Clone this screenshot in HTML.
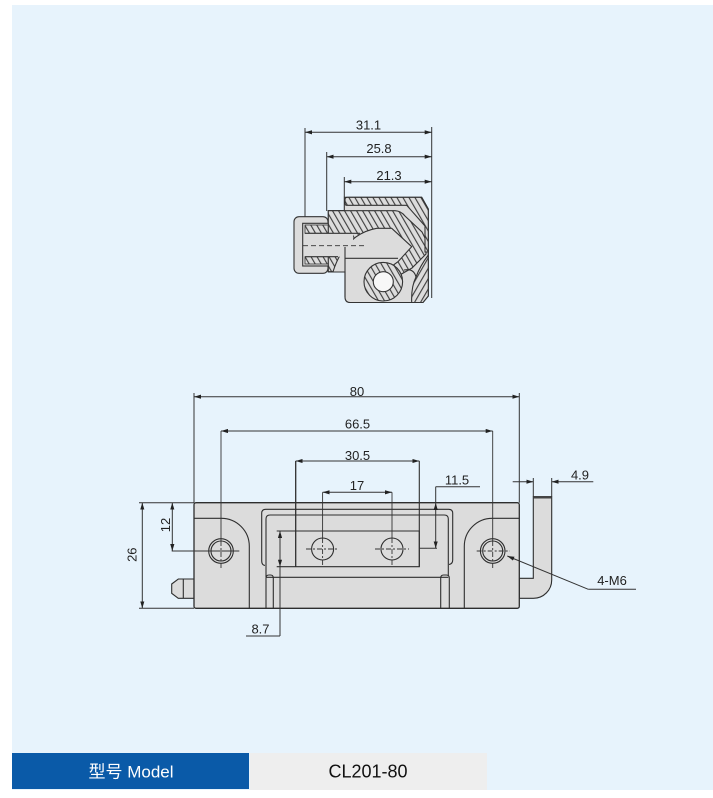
<!DOCTYPE html>
<html><head><meta charset="utf-8"><style>
html,body{margin:0;padding:0;background:#fff;}
svg{display:block;}
text{font-family:"Liberation Sans","Noto Sans CJK SC",sans-serif;}
</style></head><body>
<svg width="713" height="798" viewBox="0 0 713 798" xmlns="http://www.w3.org/2000/svg">
<defs>
<marker id="ar" viewBox="0 0 10 6" refX="10" refY="3" markerWidth="7" markerHeight="4.2" orient="auto-start-reverse" markerUnits="userSpaceOnUse"><path d="M0,0 L10,3 L0,6 z" fill="#222"/></marker>
<pattern id="h1" patternUnits="userSpaceOnUse" width="5.2" height="10" patternTransform="rotate(-30)"><rect width="5.2" height="10" fill="#dcdcdc"/><line x1="0.6" y1="-1" x2="0.6" y2="11" stroke="#333" stroke-width="1.05"/></pattern>
<pattern id="h2" patternUnits="userSpaceOnUse" width="5.2" height="10" patternTransform="rotate(30)"><rect width="5.2" height="10" fill="#dcdcdc"/><line x1="0.6" y1="-1" x2="0.6" y2="11" stroke="#333" stroke-width="1.05"/></pattern>
</defs>
<rect x="12" y="5" width="701" height="785" fill="#e7f3fc"/>

<!-- ===== TOP SECTION VIEW ===== -->
<g stroke="#333" stroke-width="1.1" fill="none">
<!-- backdrop grey -->
<path d="M344.3,197.3 L421.7,197.3 L428.3,209 L428.3,296 L423,302.5 L350,302.5 Q345,302.5 345,297 L345,272 L328.3,272 L328.3,210.7 L344.3,210.7 Z" fill="#dcdcdc"/>
<!-- left cap -->
<rect x="294" y="216.7" width="34" height="56.6" rx="5" fill="#dcdcdc"/>
<rect x="302.7" y="223.3" width="26" height="42.7" fill="#dcdcdc"/>
<rect x="305" y="225" width="23.3" height="8.3" fill="url(#h1)" stroke-width="0.8"/>
<rect x="305" y="256.7" width="23.3" height="7.3" fill="url(#h1)" stroke-width="0.8"/>
<!-- main hatched body -->
<path d="M328.3,210.7 L395,210.7 Q401,211 405,216 L422,232 L426,240 L426,254 L412,268 L398,276 L392,266 L398,261.7 L411.7,246.7 L391.7,228.3 L376.7,228.3 Q345,234 333,271.7 L328.3,271.7 Z" fill="url(#h1)"/>
<!-- pin bore grey -->
<rect x="305" y="233.3" width="48" height="23.4" fill="#dcdcdc" stroke="none"/>
<line x1="305" y1="233.3" x2="360" y2="233.3"/>
<line x1="305" y1="256.7" x2="338" y2="256.7"/>
<line x1="345" y1="258.3" x2="398" y2="258.3"/>
<line x1="345" y1="247" x2="345" y2="297"/>
<line x1="303" y1="245.7" x2="364" y2="245.7" stroke-dasharray="5,3" stroke-width="0.9"/>
<!-- ring -->
<circle cx="383.3" cy="281.7" r="19.3" fill="url(#h1)"/>
<circle cx="383.3" cy="281.7" r="10" fill="#f7f7f7"/>
<!-- upper leaf plate -->
<path d="M345,199.5 Q345,197.3 347.5,197.3 L421.7,197.3 L428.3,209 L428.3,252 L425,252 L425,226 L406.7,205.3 L347,205.3 Q345,205.3 345,203.5 Z" fill="url(#h1)"/>
<!-- lower right piece -->
<path d="M428.3,250 L428.3,296 L423,302.5 L411.7,302.5 Q411,287 416,277 Q420,266 428.3,255 Z" fill="url(#h2)"/>
<path d="M404,270 Q414,268 416,277" />
</g>
<!-- top dims -->
<g stroke="#333" stroke-width="1" fill="none">
<line x1="305" y1="128" x2="305" y2="217"/>
<line x1="326.7" y1="152" x2="326.7" y2="211"/>
<line x1="344.3" y1="177" x2="344.3" y2="197"/>
<line x1="431.7" y1="127" x2="431.7" y2="298"/>
<line x1="305" y1="132.3" x2="431.7" y2="132.3" marker-start="url(#ar)" marker-end="url(#ar)"/>
<line x1="326.7" y1="156.7" x2="431.7" y2="156.7" marker-start="url(#ar)" marker-end="url(#ar)"/>
<line x1="344.3" y1="181.7" x2="431.7" y2="181.7" marker-start="url(#ar)" marker-end="url(#ar)"/>
</g>
<g font-size="13" fill="#222" text-anchor="middle">
<text x="368.5" y="129.3">31.1</text>
<text x="379" y="153">25.8</text>
<text x="389" y="180">21.3</text>
</g>

<!-- ===== BOTTOM FRONT VIEW ===== -->
<g stroke="#2e2e2e" stroke-width="1.1" fill="none">
<!-- left stub pin -->
<path d="M171.7,584 L178.3,579 L194,579 L194,598.3 L178.3,598.3 L171.7,593.3 Z" fill="#dcdcdc"/>
<line x1="183.3" y1="579" x2="183.3" y2="598.3"/>
<!-- right L pin -->
<path d="M519.3,578.3 L533.3,578.3 L533.3,497 L551.7,497 L551.7,580 A18.3,18.3 0 0 1 533.4,598.3 L519.3,598.3 Z" fill="#dcdcdc"/>
<rect x="533.3" y="496" width="18.4" height="2.5" fill="#444" stroke="none"/>
<!-- body -->
<rect x="194" y="502.7" width="325.3" height="105.6" rx="2" fill="#dcdcdc" stroke-width="1.3"/>
<path d="M194,518.3 L221,518.3 A28,28 0 0 1 249.3,546.3 L249.3,608.3"/>
<path d="M519.3,518.3 L492.3,518.3 A28,28 0 0 0 464.3,546.3 L464.3,608.3"/>
<!-- middle leaf outlines -->
<path d="M265,565.5 Q261.7,565 261.7,561 L261.7,513.3 Q261.7,509.3 265.7,509.3 L448.7,509.3 Q452.7,509.3 452.7,513.3 L452.7,560 Q452.7,564 449,564.5"/>
<path d="M266,577 L266,519 Q266,515 270,515 L444.3,515 Q448.3,515 448.3,519 L448.3,576"/>
<line x1="266" y1="577.3" x2="448.3" y2="577.3"/>
<path d="M266,608.3 L266,578 Q266,575 269,575 L270.5,575 Q273.3,575 273.3,578 L273.3,608.3"/>
<path d="M449.3,608.3 L449.3,578 Q449.3,575 446.3,575 L443.7,575 Q440.7,575 440.7,578 L440.7,608.3"/>
<!-- middle plate rect -->
<path d="M276.7,531 L419.3,531 L419.3,566.7 L276.7,566.7"/>
<line x1="295.7" y1="461" x2="295.7" y2="566.7" stroke-width="1.3"/>
<line x1="419.3" y1="461" x2="419.3" y2="566.7"/>
<!-- holes -->
<circle cx="221" cy="551" r="12.3"/>
<circle cx="221" cy="551" r="10"/>
<circle cx="492.7" cy="551" r="12.3"/>
<circle cx="492.7" cy="551" r="10"/>
<circle cx="322.6" cy="549" r="11"/>
<circle cx="392" cy="549" r="11"/>
</g>
<!-- centerlines -->
<g stroke="#333" stroke-width="0.9" fill="none">
<line x1="221" y1="431" x2="221" y2="541"/>
<line x1="221" y1="541" x2="221" y2="569" stroke-dasharray="5,2,2,2"/>
<line x1="492.7" y1="431" x2="492.7" y2="541"/>
<line x1="492.7" y1="541" x2="492.7" y2="569" stroke-dasharray="5,2,2,2"/>
<line x1="476.7" y1="551" x2="510" y2="551" stroke-dasharray="5,2,2,2"/>
<line x1="171.7" y1="551" x2="239.3" y2="551"/>
<line x1="322.6" y1="492.3" x2="322.6" y2="538"/>
<line x1="322.6" y1="538" x2="322.6" y2="565" stroke-dasharray="5,2,2,2"/>
<line x1="306" y1="549" x2="339" y2="549" stroke-dasharray="5,2,2,2"/>
<line x1="392" y1="492.3" x2="392" y2="538"/>
<line x1="392" y1="538" x2="392" y2="565" stroke-dasharray="5,2,2,2"/>
<line x1="375" y1="549" x2="409" y2="549" stroke-dasharray="5,2,2,2"/>
</g>
<!-- dimensions -->
<g stroke="#333" stroke-width="1" fill="none">
<line x1="194" y1="393" x2="194" y2="502.7"/>
<line x1="519.3" y1="393" x2="519.3" y2="502.7"/>
<line x1="194" y1="396.7" x2="519.3" y2="396.7" marker-start="url(#ar)" marker-end="url(#ar)"/>
<line x1="221" y1="431" x2="492.7" y2="431" marker-start="url(#ar)" marker-end="url(#ar)"/>
<line x1="295.7" y1="461" x2="419.3" y2="461" marker-start="url(#ar)" marker-end="url(#ar)"/>
<line x1="322.6" y1="492.3" x2="392" y2="492.3" marker-start="url(#ar)" marker-end="url(#ar)"/>
<!-- 11.5 -->
<line x1="435.7" y1="486.7" x2="480" y2="486.7"/>
<line x1="435.7" y1="486.7" x2="435.7" y2="503"/>
<line x1="435.7" y1="503" x2="435.7" y2="548.3" marker-start="url(#ar)" marker-end="url(#ar)"/>
<line x1="419.3" y1="548.3" x2="437" y2="548.3"/>
<!-- 4.9 -->
<line x1="533.3" y1="478" x2="533.3" y2="497"/>
<line x1="551.7" y1="478" x2="551.7" y2="497"/>
<line x1="512.7" y1="481.7" x2="533.3" y2="481.7" marker-end="url(#ar)"/>
<line x1="593.3" y1="481.7" x2="551.7" y2="481.7" marker-end="url(#ar)"/>
<!-- 26 & 12 -->
<line x1="139" y1="502.7" x2="194" y2="502.7"/>
<line x1="139" y1="608.3" x2="194" y2="608.3"/>
<line x1="142.3" y1="502.7" x2="142.3" y2="608.3" marker-start="url(#ar)" marker-end="url(#ar)"/>
<line x1="172.3" y1="502.7" x2="172.3" y2="551" marker-start="url(#ar)" marker-end="url(#ar)"/>
<!-- 8.7 -->
<line x1="280" y1="531" x2="280" y2="566.7" marker-start="url(#ar)" marker-end="url(#ar)"/>
<line x1="280" y1="566.7" x2="280" y2="636"/>
<line x1="246" y1="636" x2="280" y2="636"/>
<!-- 4-M6 leader -->
<line x1="588.3" y1="589.3" x2="507.3" y2="556" marker-end="url(#ar)"/>
<line x1="588.3" y1="589.3" x2="636" y2="589.3"/>
</g>
<g font-size="13" fill="#222" text-anchor="middle">
<text x="357" y="396">80</text>
<text x="357.5" y="428.3">66.5</text>
<text x="357.5" y="460">30.5</text>
<text x="357" y="490">17</text>
<text x="457" y="484.3">11.5</text>
<text x="580" y="479.3">4.9</text>
<text x="612" y="585">4-M6</text>
<text x="260.5" y="633.3">8.7</text>
<text transform="translate(136.7,554.7) rotate(-90)">26</text>
<text transform="translate(170,525) rotate(-90)">12</text>
</g>

<!-- ===== FOOTER ===== -->
<rect x="12" y="753" width="237" height="36" fill="#0a5aa8"/>
<rect x="250" y="753" width="237" height="37" fill="#eeeeee"/>
<text x="131" y="777.5" font-size="17" fill="#ffffff" text-anchor="middle">型号 Model</text>
<text x="368" y="777.5" font-size="18" fill="#111" text-anchor="middle">CL201-80</text>
</svg>
</body></html>
